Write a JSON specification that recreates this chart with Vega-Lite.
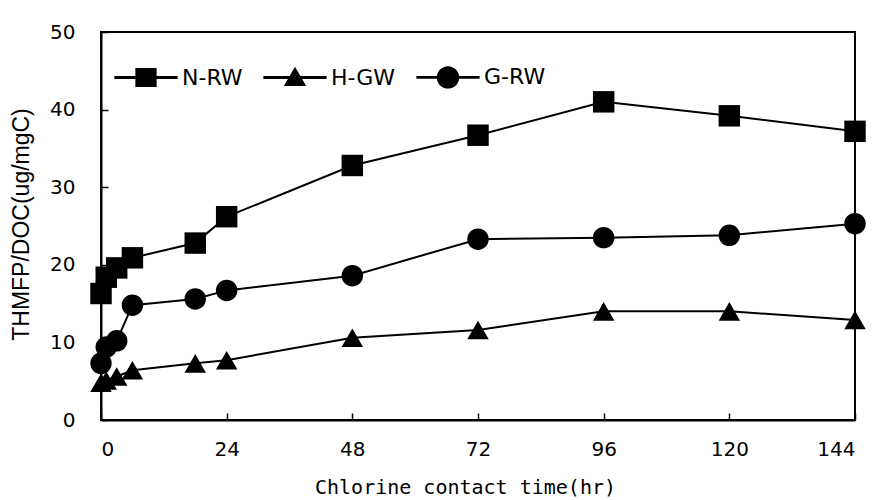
{
  "$schema": "https://vega.github.io/schema/vega-lite/v6.json",
  "width": 754,
  "height": 388,
  "autosize": {"type": "none"},
  "padding": {"left": 101, "top": 32, "right": 27, "bottom": 80},
  "background": "white",
  "config": {
    "view": {"stroke": "black", "strokeWidth": 2},
    "font": "Liberation Sans",
    "axis": {
      "grid": false,
      "domainColor": "black",
      "domainWidth": 2,
      "tickColor": "black",
      "tickWidth": 1.5,
      "tickSize": -7,
      "labelColor": "black",
      "labelFontSize": 20,
      "labelFont": "DejaVu Sans",
      "titleColor": "black",
      "titleFontWeight": "normal"
    }
  },
  "data": {
    "values": [
      {"t": 0, "v": 16.3, "s": "N-RW"},
      {"t": 1, "v": 18.4, "s": "N-RW"},
      {"t": 3, "v": 19.6, "s": "N-RW"},
      {"t": 6, "v": 20.9, "s": "N-RW"},
      {"t": 18, "v": 22.8, "s": "N-RW"},
      {"t": 24, "v": 26.2, "s": "N-RW"},
      {"t": 48, "v": 32.8, "s": "N-RW"},
      {"t": 72, "v": 36.7, "s": "N-RW"},
      {"t": 96, "v": 41.0, "s": "N-RW"},
      {"t": 120, "v": 39.2, "s": "N-RW"},
      {"t": 144, "v": 37.2, "s": "N-RW"},
      {"t": 0, "v": 4.8, "s": "H-GW"},
      {"t": 1, "v": 5.1, "s": "H-GW"},
      {"t": 3, "v": 5.6, "s": "H-GW"},
      {"t": 6, "v": 6.4, "s": "H-GW"},
      {"t": 18, "v": 7.3, "s": "H-GW"},
      {"t": 24, "v": 7.7, "s": "H-GW"},
      {"t": 48, "v": 10.6, "s": "H-GW"},
      {"t": 72, "v": 11.6, "s": "H-GW"},
      {"t": 96, "v": 14.0, "s": "H-GW"},
      {"t": 120, "v": 14.0, "s": "H-GW"},
      {"t": 144, "v": 12.9, "s": "H-GW"},
      {"t": 0, "v": 7.3, "s": "G-RW"},
      {"t": 1, "v": 9.4, "s": "G-RW"},
      {"t": 3, "v": 10.2, "s": "G-RW"},
      {"t": 6, "v": 14.8, "s": "G-RW"},
      {"t": 18, "v": 15.6, "s": "G-RW"},
      {"t": 24, "v": 16.7, "s": "G-RW"},
      {"t": 48, "v": 18.6, "s": "G-RW"},
      {"t": 72, "v": 23.3, "s": "G-RW"},
      {"t": 96, "v": 23.5, "s": "G-RW"},
      {"t": 120, "v": 23.8, "s": "G-RW"},
      {"t": 144, "v": 25.3, "s": "G-RW"}
    ]
  },
  "encoding": {
    "x": {
      "field": "t",
      "type": "quantitative",
      "scale": {"domain": [0, 144], "nice": false, "zero": true},
      "axis": {
        "values": [0, 24, 48, 72, 96, 120, 144],
        "title": "Chlorine contact time(hr)",
        "titleFont": "DejaVu Sans Mono",
        "titleFontSize": 20,
        "labelPadding": 26,
        "titleX": 364,
        "titleY": 57
      }
    },
    "y": {
      "field": "v",
      "type": "quantitative",
      "scale": {"domain": [0, 50], "nice": false},
      "axis": {
        "values": [0, 10, 20, 30, 40, 50],
        "title": "THMFP/DOC(ug/mgC)",
        "titleFont": "Liberation Sans",
        "titleFontSize": 23,
        "labelPadding": 33,
        "titleX": -68,
        "titleY": 192
      }
    }
  },
  "layer": [
    {
      "mark": {"type": "line", "color": "black", "strokeWidth": 2},
      "encoding": {"detail": {"field": "s"}}
    },
    {
      "mark": {"type": "point", "filled": true, "color": "black", "opacity": 1, "size": 460},
      "encoding": {
        "shape": {
          "field": "s",
          "type": "nominal",
          "scale": {"domain": ["N-RW", "H-GW", "G-RW"], "range": ["square", "triangle-up", "circle"]},
          "legend": null
        }
      }
    },
    {
      "mark": {"type": "point", "filled": true, "color": "black", "opacity": 0, "size": 10},
      "encoding": {
        "shape": {
          "field": "s",
          "type": "nominal",
          "scale": {
            "domain": ["N-RW", "H-GW", "G-RW"],
            "range": [
              "M-1.13,-0.05L1.13,-0.05L1.13,0.05L-1.13,0.05ZM-0.38,-0.34L0.38,-0.34L0.38,0.34L-0.38,0.34Z",
              "M-1.13,-0.05L1.13,-0.05L1.13,0.05L-1.13,0.05ZM0,-0.38L0.4,0.3L-0.4,0.3Z",
              "M-1.13,-0.05L1.13,-0.05L1.13,0.05L-1.13,0.05ZM0.4,0A0.4,0.4,0,1,1,-0.4,0A0.4,0.4,0,1,1,0.4,0Z"
            ]
          },
          "legend": {
            "title": null,
            "orient": "none",
            "direction": "horizontal",
            "legendX": 17,
            "legendY": 17,
            "padding": 0,
            "symbolSize": 3136,
            "symbolStrokeWidth": 0,
            "symbolFillColor": "black",
            "symbolOpacity": 1,
            "labelFont": "DejaVu Sans",
            "labelFontSize": 22,
            "labelColor": "black",
            "labelOffset": 8,
            "columnPadding": 20
          }
        }
      }
    }
  ],
  "resolve": {"scale": {"shape": "independent"}, "legend": {"shape": "independent"}}
}
